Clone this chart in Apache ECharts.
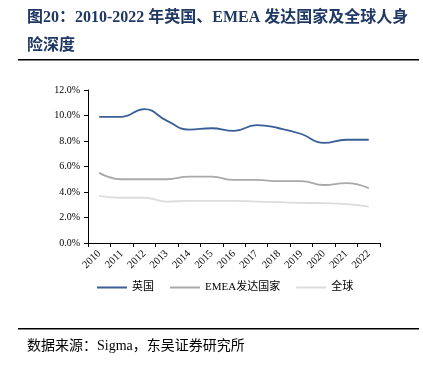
<!DOCTYPE html>
<html><head><meta charset="utf-8">
<script src="https://cdn.jsdelivr.net/npm/echarts@6/dist/echarts.min.js"></script>
<style>html,body{margin:0;padding:0;background:#fff}#c{width:423px;height:372px}</style>
</head><body><div id="c"></div>
<script>
const years = ['2010','2011','2012','2013','2014','2015','2016','2017','2018','2019','2020','2021','2022'];
const uk = [9.9, 9.9, 10.5, 9.6, 8.9, 9.0, 8.8, 9.25, 9.0, 8.55, 7.85, 8.1, 8.1];
const emea = [5.5, 5.0, 5.0, 5.0, 5.2, 5.2, 4.95, 4.95, 4.85, 4.85, 4.55, 4.7, 4.3];
const world = [3.7, 3.55, 3.55, 3.25, 3.3, 3.3, 3.3, 3.25, 3.2, 3.15, 3.12, 3.05, 2.85];
const seriesNames = ['英国', 'EMEA发达国家', '全球'];
const titleLine1 = '图20：2010-2022 年英国、EMEA 发达国家及全球人身';
const titleLine2 = '险深度';
const sourceText = '数据来源：Sigma，东吴证券研究所';

const serif = '"Liberation Serif","Times New Roman","Noto Sans CJK SC",serif';
const chart = echarts.init(document.getElementById('c'));
const mk = (name, data, color) => ({
  name, type: 'line', data, smooth: true, symbol: 'none',
  lineStyle: { color, width: 1.8 }, itemStyle: { color }
});
chart.setOption({
  animation: false,
  grid: { left: 88, right: 43, top: 90, bottom: 129 },
  legend: {
    top: 277, left: 92, icon: 'rect', itemWidth: 30, itemHeight: 2, itemGap: 16,
    textStyle: { fontFamily: serif, fontSize: 11, color: '#000' },
    data: seriesNames
  },
  xAxis: {
    type: 'category', data: years, boundaryGap: true,
    axisLine: { lineStyle: { color: '#000', width: 1 } },
    axisTick: { show: true, length: 4, lineStyle: { color: '#000' } },
    axisLabel: { rotate: 45, fontFamily: serif, fontSize: 10.5, color: '#000', margin: 9, interval: 0 }
  },
  yAxis: {
    type: 'value', min: 0, max: 12, interval: 2,
    splitLine: { show: false },
    axisLine: { show: true, lineStyle: { color: '#000', width: 1 } },
    axisTick: { show: true, length: 4, lineStyle: { color: '#000' } },
    axisLabel: { fontFamily: serif, fontSize: 10, color: '#000', margin: 8, formatter: v => v.toFixed(1) + '%' }
  },
  series: [mk(seriesNames[0], uk, '#3a5f98'), mk(seriesNames[1], emea, '#a9a9a9'), mk(seriesNames[2], world, '#dcdcdc')],
  graphic: [
    { type: 'text', left: 27, top: 10, style: { text: titleLine1, font: 'bold 16px ' + serif, fill: '#1f3864' } },
    { type: 'text', left: 27, top: 38, style: { text: titleLine2, font: 'bold 16px ' + serif, fill: '#1f3864' } },
    { type: 'rect', shape: { x: 18, y: 59, width: 401, height: 1.5 }, style: { fill: '#000' } },
    { type: 'rect', shape: { x: 18, y: 328, width: 401, height: 1.5 }, style: { fill: '#000' } },
    { type: 'text', left: 27, top: 339, style: { text: sourceText, font: '14px ' + serif, fill: '#000' } }
  ]
});
</script></body></html>
